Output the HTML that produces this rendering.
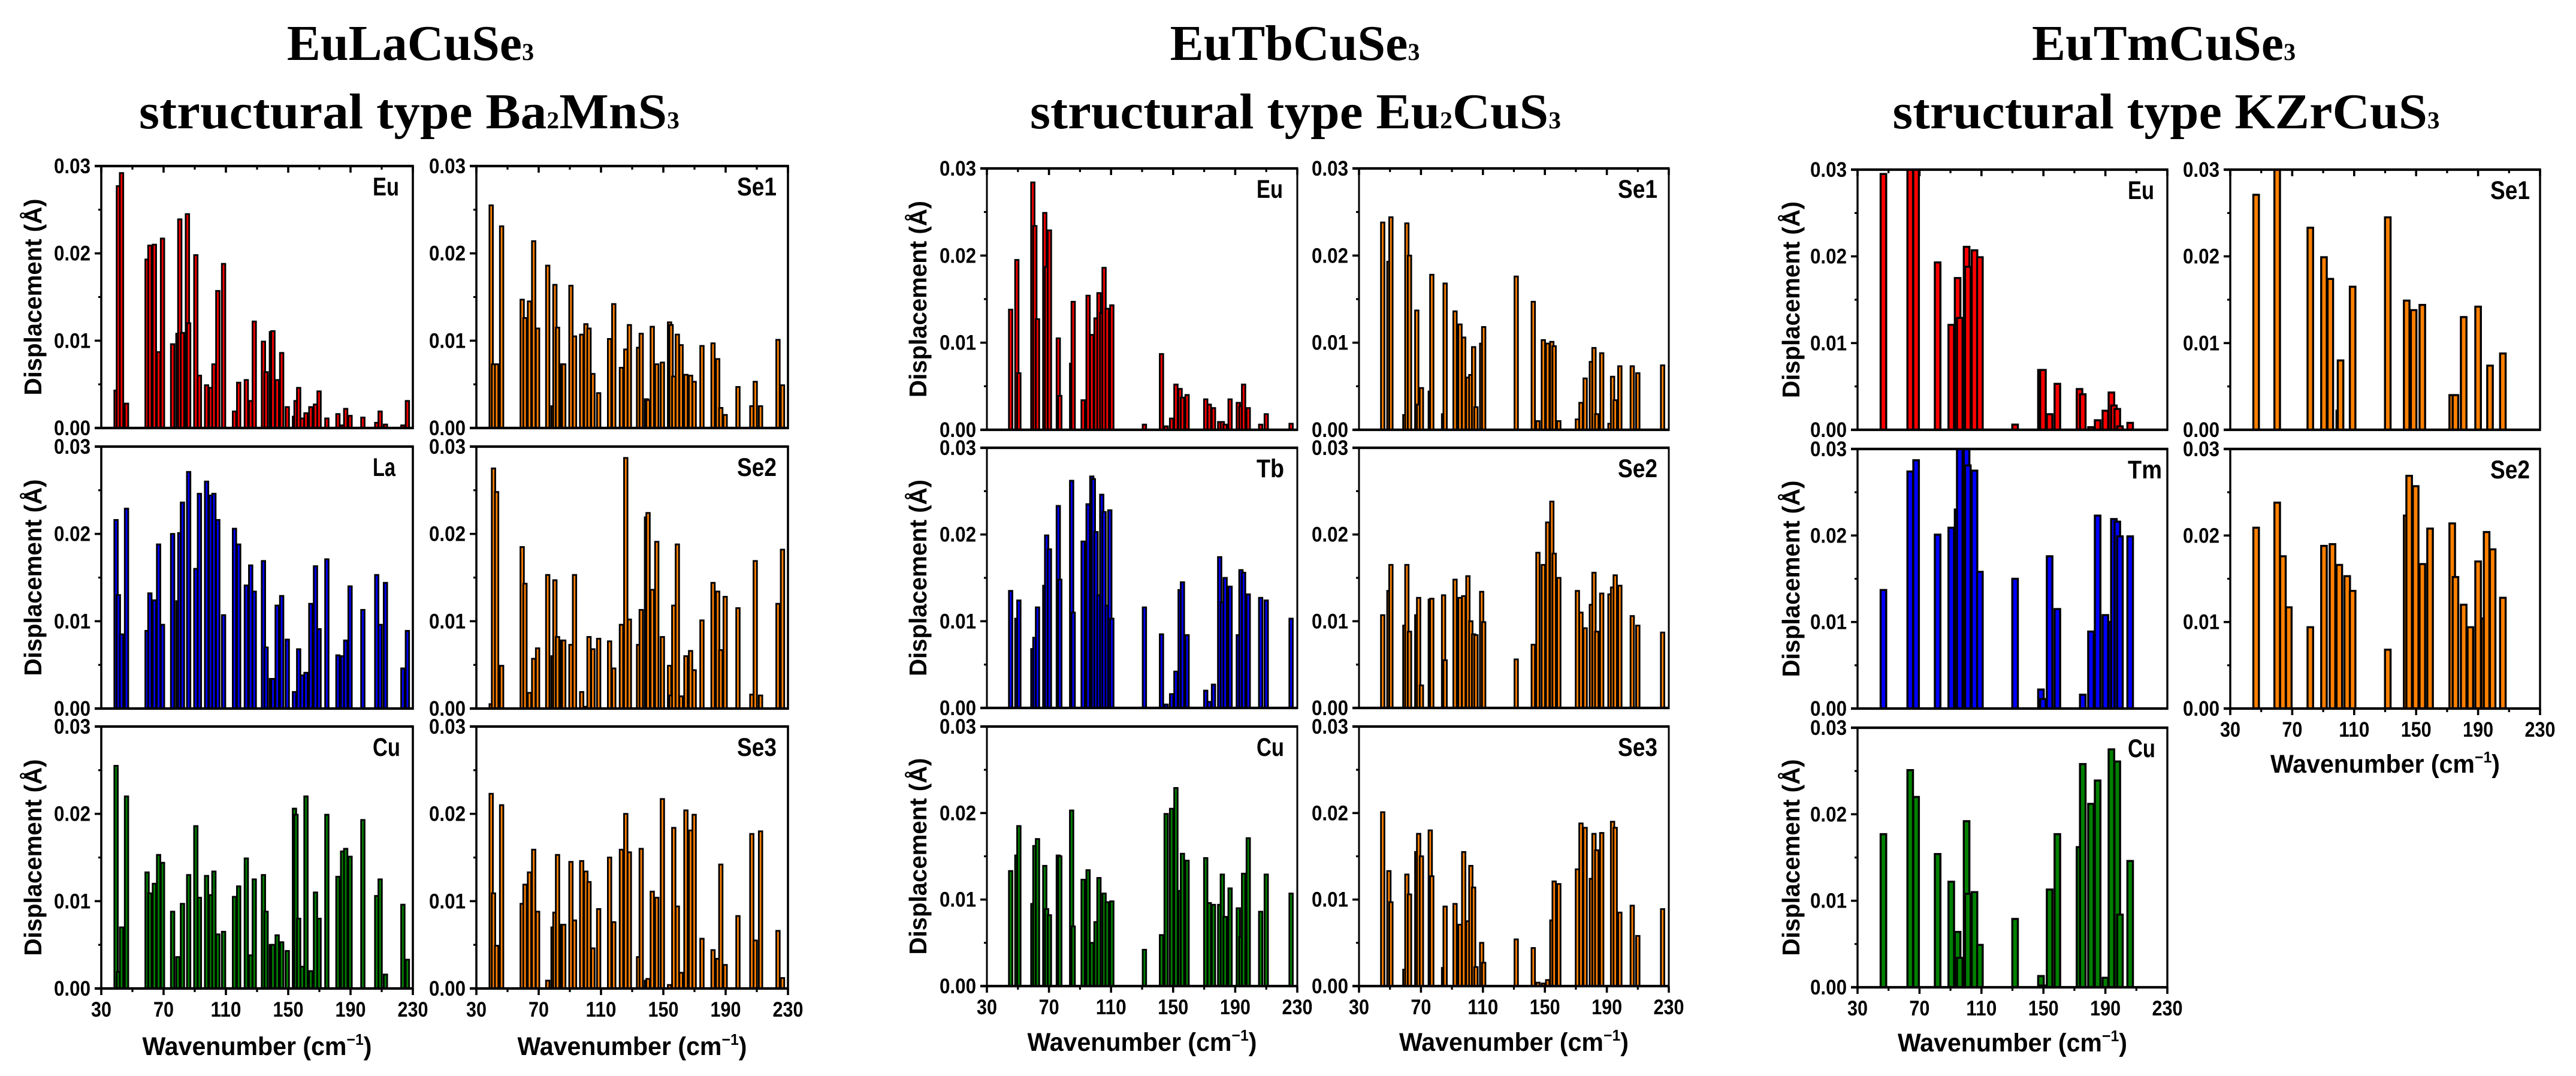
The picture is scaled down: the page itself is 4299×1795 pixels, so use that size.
<!DOCTYPE html>
<html lang="en">
<head>
<meta charset="utf-8">
<title>Atomic displacement charts for EuLaCuSe3, EuTbCuSe3, EuTmCuSe3</title>
<style>
html,body{margin:0;padding:0;background:#fff;}
svg{display:block;}
text{fill:#000;}
.title{font-family:"Liberation Serif",serif;font-weight:bold;font-size:84px;text-anchor:middle;}
</style>
</head>
<body>
<svg id="chart" xmlns="http://www.w3.org/2000/svg" width="4299" height="1795" viewBox="0 0 4299 1795">
  <rect x="0" y="0" width="4299" height="1795" fill="#fff"/>
  <text class="title" x="685" y="100">EuLaCuSe<tspan font-size="40">3</tspan></text>
  <text class="title" x="683" y="214" textLength="902" lengthAdjust="spacingAndGlyphs">structural type Ba<tspan font-size="40">2</tspan>MnS<tspan font-size="40">3</tspan></text>
  <text class="title" x="2161" y="100">EuTbCuSe<tspan font-size="40">3</tspan></text>
  <text class="title" x="2162" y="214" textLength="886" lengthAdjust="spacingAndGlyphs">structural type Eu<tspan font-size="40">2</tspan>CuS<tspan font-size="40">3</tspan></text>
  <text class="title" x="3611" y="100">EuTmCuSe<tspan font-size="40">3</tspan></text>
  <text class="title" x="3615" y="214" textLength="913" lengthAdjust="spacingAndGlyphs">structural type KZrCuS<tspan font-size="40">3</tspan></text>
</svg>
<script>
// Axis tick data (displacement values are in 10^-3 angstrom)
const xMajorTicks = [30, 70, 110, 150, 190, 230];
const xMinorTicks = [50, 90, 130, 170, 210];
const yMajorTicks = [0, 10, 20, 30];
const yMinorTicks = [5, 15, 25];
const yTickLabels = ['0.00', '0.01', '0.02', '0.03'];

// EuLaCuSe3 mode wavenumbers and displacements
const laWavenumbers = [39.5,41,43,46.2,59.4,61.2,64.1,66.8,69.3,75.8,
  79.2,80.4,82.1,85.3,86.1,90.7,93,97.6,100.3,102.3,
  104.8,108.5,115.5,118.2,123.1,125.9,128.2,134.1,135.8,139.2,
  140.2,142.9,145.8,149.4,154,155,156.7,159,161.4,164.5,
  167.5,169.8,174.8,181.9,184.9,186.9,189.7,197.9,206.8,209,
  212.4,223.6,226.5];
const laEu = [4.3,27.7,29.2,2.8,19.3,20.9,21,8.7,21.7,9.6,
  10.8,23.9,10.9,24.5,12,19.8,6,4.9,4.6,7.3,
  15.7,18.8,1.9,5.2,5.5,3.1,12.2,9.9,6.4,11,
  11.1,5.5,8.6,2.4,1.3,3.1,4.6,1.1,1.7,2.4,
  2.7,4.2,1.1,1.6,.3,2.2,1.4,1.2,.6,1.9,
  .4,.3,3.1];
const laLa = [21.6,13,8.5,22.9,8.9,13.2,12.4,18.8,9.6,20,
  12.3,20.1,23.6,0,27.1,16,24.6,26,24.4,24.6,
  21.6,10.7,20.6,18.8,14.1,16.4,13.4,16.9,7,3.4,
  3.4,11.8,12.9,7.9,1.9,0,6.8,3.8,4.1,12,
  16.3,9.1,17.1,6.1,6,7.8,14,11.3,15.3,9.6,
  14.4,4.6,8.9];
const laCu = [25.5,1.9,7,22,13.3,10.9,12,15.3,14.4,8.8,
  3.6,0,9.7,0,13,18.6,10.4,12.9,10.7,13.4,
  6.2,6.5,10.5,11.7,14.9,3.8,12.5,13,8.8,5,
  5,6.1,5.3,4.3,20.6,19.9,8,2.5,22,2,
  11,8,19.9,12.8,15.7,16,15.1,19.3,10.6,12.5,
  1.6,9.6,3.3];
const laSe1 = [25.5,7.3,7.3,23.1,14.7,12.6,14.5,21.4,11.4,18.6,
  2.5,16.4,11.5,7.3,7.3,16.3,10.5,10.7,11.9,11.4,
  6.2,4,10.2,14.2,6.9,9,11.8,9.2,10.8,3.3,
  3.2,11.6,7.3,7.5,12.1,11.8,5.9,10.7,9.5,6.1,
  6,5.3,9.4,9.7,7.9,2.3,1.5,4.7,2.5,5.3,
  2.5,10.1,4.9];
const laSe2 = [.5,27.5,24.8,4.9,18.5,14.3,1.8,5.7,6.9,15.3,
  6,14.7,8.2,7.8,7.8,7.3,15.3,1.9,.2,8.2,
  6.8,8,7.7,4.6,9.6,28.7,10.2,7.3,11.3,21.9,
  22.4,13.6,19.1,8.2,4.9,1.5,11.8,18.8,1.4,6,
  6.6,4.4,10.1,14.4,13.4,6.7,12.8,11.5,1.6,16.9,
  1.5,12,18.2];
const laSe3 = [22.3,10.9,4.9,21,9.7,11.9,13.3,15.9,8.8,.9,
  7,8.7,15.3,7.3,7.3,14.5,7.8,14.6,13.4,12.2,
  4.6,9.1,15,7.6,15.9,20,15.6,3.6,16,.9,
  1.1,11.1,10.4,21.7,.4,0,18.4,9.4,1.8,20.4,
  18.1,19.9,5.7,4.4,3.4,14.2,2.7,8.3,17.7,5.5,
  18,6.6,1.2];

// EuTbCuSe3 mode wavenumbers and displacements
const tbWavenumbers = [45.3,49.3,50.6,59.6,60.9,62.6,67.3,68.5,70.3,76,
  77,84.6,85.6,92,95.2,97.6,98.6,100.3,102.2,104,
  105.5,107.5,109.2,110.5,131.5,142.5,145.5,149,151.8,154.5,
  156,159,171,173.3,176,180,181.7,183.5,186.7,192,
  193.7,195.4,198.4,206.4,210,226];
const tbEu = [13.8,19.5,6.5,28.4,23.4,12.7,24.9,18.7,22.9,10.5,
  3.9,7.6,14.7,3.4,15.4,10.9,0,12.8,15.7,13.4,
  18.6,13.9,0,14.3,.6,8.7,.4,1.3,5.2,4.7,
  3.7,4,3.5,2.9,2.5,.9,.9,.6,3.5,3.1,
  2.7,5.2,2.5,.6,1.8,.7];
const tbTb = [13.5,10.3,12.4,6.8,8.1,11.6,14.1,19.9,18.3,23.3,
  14.8,26.2,11,19.2,23.5,26.7,26.4,20.3,13,24.6,
  22.6,11.8,22.8,10.3,11.6,8.5,.4,1.6,4.2,13.6,
  14.5,8.4,2,.7,2.7,17.4,12.2,15,14,8.4,
  15.9,15.6,13.1,12.7,12.4,10.3];
const tbCu = [13.3,15.1,18.5,9.5,16.2,17,13.9,8.9,8.2,15.1,
  15,20.3,6.9,12.3,13.4,5,0,7.4,12.5,0,
  10.7,9.7,0,9.8,4.2,5.9,19.9,20.5,22.9,11,
  15.3,14.5,14.8,9.6,9.4,9.4,12.9,8,11.3,9,
  5.7,13,17.1,8.6,12.9,10.7];
const tbSe1 = [23.8,19.3,24.4,1.7,23.7,20,13.7,2.9,4.8,4.4,
  17.8,1.8,16.8,13.6,12.1,10.6,0,6,6.3,9.5,
  2.6,0,9.9,11.8,17.6,14.7,1,10.3,9.9,10.1,
  9.6,1,1.2,3.1,5.9,7.8,9.4,1.8,8.8,.7,
  6.1,3.4,7.3,7.3,6.5,7.4];
const tbSe2 = [10.7,13.5,16.5,9.5,16.5,8.8,10.7,12.7,2.6,12.5,
  12.6,13,5.5,14.8,12.7,12.9,0,15.2,10,8.5,
  8.4,0,13.4,9.9,5.6,7.3,17.9,16.5,21.4,23.8,
  17.8,15,13.5,11,9.2,11.9,15.6,8.8,13.2,13.1,
  13.9,15.3,14.1,10.6,9.5,8.7];
const tbSe3 = [20.1,13.3,9.7,1.9,12.9,10.6,15.5,17.6,15,18,
  12.7,2.1,9.2,9.5,7.1,15.5,0,7.5,13.9,11.4,
  2.2,0,5,2.7,5.4,4.4,.4,.3,.7,7.6,
  12.1,11.8,13.5,18.8,18.3,12.4,17.6,15.7,17.7,0,
  19,18.3,8.5,9.3,5.8,8.9];

// EuTmCuSe3 mode wavenumbers and displacements
const tmWavenumbers = [46.7,60.3,64,67.8,81.7,90.5,94.6,96,100.4,101.2,
  105.5,109,131.7,143.9,145.5,148.4,149.7,154,159,173.3,
  175.4,180.7,185,190,193.9,195.5,197.7,199.4,206];
const tmEu = [29.5,0,31,31,19.3,12.1,17.5,12.9,21.1,18.8,
  20.7,19.9,.6,0,0,6.9,6.9,1.8,5.3,4.7,
  4.1,.3,1.1,2.2,4.3,2.8,2.4,.4,.8];
const tmTm = [13.7,0,27.4,28.7,20.1,20.9,23,31,31,28.1,
  27.5,15.8,15,0,0,2.2,1.1,17.6,11.5,0,
  1.6,8.9,22.3,10.8,10,21.9,21.6,19.9,19.9];
const tmCu = [17.7,0,25.1,22,15.4,12.2,6.4,3.4,19.2,10.8,
  11,4.9,7.9,0,0,1.3,.2,11.3,17.7,16.2,
  25.8,21.2,23.9,1.1,27.5,0,26.1,8.4,14.6];
const tmSe1 = [27.1,31,0,0,23.3,19.9,17.4,0,2.2,8,
  0,16.5,24.5,14.9,0,13.8,0,14.4,0,4,
  4,13,0,14.2,0,0,7.4,0,8.8];
const tmSe2 = [20.9,23.8,17.6,11.7,9.4,18.8,0,19,16.6,0,
  15.3,13.6,6.8,22.3,26.9,0,25.7,16.7,20.8,21.4,
  15.2,12,9.4,17,10.4,20.4,0,18.4,12.8];

const RED = '#ff0000', BLUE = '#0000ff', GREEN = '#008000', ORANGE = '#ff8000';
const NS = 'http://www.w3.org/2000/svg';
const root = document.getElementById('chart');
const xDomain = [30, 230];
const yDomain = [0, 30];

function makeLine(parent, x1, y1, x2, y2, width) {
  const el = document.createElementNS(NS, 'line');
  el.setAttribute('x1', x1);
  el.setAttribute('y1', y1);
  el.setAttribute('x2', x2);
  el.setAttribute('y2', y2);
  el.setAttribute('stroke', '#000');
  el.setAttribute('stroke-width', width);
  parent.appendChild(el);
  return el;
}

function makeText(parent, x, y, size, anchor, content) {
  const el = document.createElementNS(NS, 'text');
  el.setAttribute('x', x);
  el.setAttribute('y', y);
  el.setAttribute('font-family', '"Liberation Sans", sans-serif');
  el.setAttribute('font-weight', 'bold');
  el.setAttribute('font-size', size);
  el.setAttribute('text-anchor', anchor);
  el.textContent = content;
  parent.appendChild(el);
  return el;
}

let clipCounter = 0;

function drawPanel(p) {
  const g = document.createElementNS(NS, 'g');
  
  
  root.appendChild(g);

  const xScale = v => p.left + (v - xDomain[0]) / (xDomain[1] - xDomain[0]) * (p.right - p.left);
  const yScale = v => p.bottom - (v - yDomain[0]) / (yDomain[1] - yDomain[0]) * (p.bottom - p.top);

  clipCounter += 1;
  const clip = document.createElementNS(NS, 'clipPath');
  clip.setAttribute('id', 'clip' + clipCounter);
  const clipRect = document.createElementNS(NS, 'rect');
  clipRect.setAttribute('x', p.left);
  clipRect.setAttribute('y', p.top);
  clipRect.setAttribute('width', p.right - p.left);
  clipRect.setAttribute('height', p.bottom - p.top);
  clip.appendChild(clipRect);
  g.appendChild(clip);

  const bars = document.createElementNS(NS, 'g');
  
  
  bars.setAttribute('clip-path', 'url(#clip' + clipCounter + ')');
  g.appendChild(bars);

  p.freqs.forEach((f, i) => {
    const v = p.values[i];
    if (!v) return;
    const bar = document.createElementNS(NS, 'rect');
    
    
    bar.setAttribute('x', xScale(f) - p.barW / 2);
    bar.setAttribute('y', yScale(v));
    bar.setAttribute('width', p.barW);
    bar.setAttribute('height', Math.max(0, yScale(0) - yScale(v)));
    bar.setAttribute('fill', p.color);
    bar.setAttribute('stroke', '#000');
    bar.setAttribute('stroke-width', p.barStroke);
    bars.appendChild(bar);
  });

  const frame = document.createElementNS(NS, 'g');
  
  
  g.appendChild(frame);
  makeLine(frame, p.left, p.top - 2, p.left, p.bottom + 2, p.sideW);
  makeLine(frame, p.right, p.top - 2, p.right, p.bottom + 2, p.sideW);
  makeLine(frame, p.left - 11, p.top, p.right + 1, p.top, 4.2);
  makeLine(frame, p.left - 11, p.bottom, p.right + 1, p.bottom, 4.2);

  yMajorTicks.forEach((v, i) => {
    makeLine(frame, p.left - 11, yScale(v), p.left, yScale(v), 3.6);
    const lab = makeText(frame, p.left - 18, yScale(v) + 12, 35, 'end', yTickLabels[i]);
    
    
    lab.setAttribute('textLength', 61);
    lab.setAttribute('lengthAdjust', 'spacingAndGlyphs');
  });
  yMinorTicks.forEach(v => {
    makeLine(frame, p.left - 5, yScale(v), p.left, yScale(v), 3.2);
  });

  if (p.topTicks) {
    xMajorTicks.forEach(v => makeLine(frame, xScale(v), p.top, xScale(v), p.top + 11, 3.6));
    xMinorTicks.forEach(v => makeLine(frame, xScale(v), p.top, xScale(v), p.top + 6, 3.2));
  }
  if (p.xLabels) {
    xMajorTicks.forEach(v => {
      makeLine(frame, xScale(v), p.bottom, xScale(v), p.bottom + 11, 3.6);
      const lab = makeText(frame, xScale(v), p.bottom + 47, 35, 'middle', String(v));
      
      
      lab.setAttribute('textLength', String(v).length * 17);
      lab.setAttribute('lengthAdjust', 'spacingAndGlyphs');
    });
    xMinorTicks.forEach(v => makeLine(frame, xScale(v), p.bottom, xScale(v), p.bottom + 6, 3.2));

    const xt = makeText(frame, (p.left + p.right) / 2, p.bottom + p.titleDy, 43, 'middle', 'Wavenumber (cm');
    
    
    xt.setAttribute('textLength', 383);
    xt.setAttribute('lengthAdjust', 'spacingAndGlyphs');
    const sup = document.createElementNS(NS, 'tspan');
    sup.setAttribute('font-size', 26);
    sup.setAttribute('dy', -17);
    sup.textContent = '\u22121';
    xt.appendChild(sup);
    const close = document.createElementNS(NS, 'tspan');
    close.setAttribute('dy', 17);
    close.textContent = ')';
    xt.appendChild(close);
  }

  if (p.yTitleX) {
    const yt = makeText(frame, 0, 0, 41, 'middle', 'Displacement (\u00c5)');
    
    
    yt.setAttribute('transform', 'translate(' + p.yTitleX + ',' + (p.top + p.bottom) / 2 + ') rotate(-90)');
    yt.setAttribute('dy', 14);
    yt.setAttribute('textLength', 328);
    yt.setAttribute('lengthAdjust', 'spacingAndGlyphs');
  }

  const lab = makeText(g, p.left + p.labelDx, p.top + 49, 43, 'start', p.label);
  
  
  lab.setAttribute('textLength', p.labelW);
  lab.setAttribute('lengthAdjust', 'spacingAndGlyphs');
}

function buildGroup(g) {
  g.panels.forEach(item => {
    const col = g.cols[item.col];
    const row = g.rows[item.row];
    drawPanel({
      id: g.key + '-' + item.label.toLowerCase(),
      left: col[0], right: col[1], top: row[0], bottom: row[1],
      freqs: g.freqs, values: item.values, color: item.color, label: item.label,
      labelDx: item.label.startsWith('Se') ? g.seDx : g.metalDx,
      labelW: item.w, barW: g.barW, barStroke: g.barStroke, sideW: g.sideW,
      topTicks: item.row === 0, xLabels: !!item.x, titleDy: g.titleDy,
      yTitleX: item.col === 0 ? g.yTitleX : 0
    });
  });
}

buildGroup({
  key: 'la', freqs: laWavenumbers, barW: 5.7, barStroke: 2.9, sideW: 3.6, titleDy: 111, yTitleX: 55,
  metalDx: 453, seDx: 435,
  cols: [[169, 689], [795, 1315]],
  rows: [[277, 714], [745, 1182], [1212, 1649]],
  panels: [
    {col: 0, row: 0, label: 'Eu', values: laEu, color: RED, w: 44},
    {col: 1, row: 0, label: 'Se1', values: laSe1, color: ORANGE, w: 66},
    {col: 0, row: 1, label: 'La', values: laLa, color: BLUE, w: 38},
    {col: 1, row: 1, label: 'Se2', values: laSe2, color: ORANGE, w: 66},
    {col: 0, row: 2, label: 'Cu', values: laCu, color: GREEN, w: 46, x: true},
    {col: 1, row: 2, label: 'Se3', values: laSe3, color: ORANGE, w: 66, x: true}
  ]
});

buildGroup({
  key: 'tb', freqs: tbWavenumbers, barW: 5.7, barStroke: 2.9, sideW: 3, titleDy: 108, yTitleX: 1532,
  metalDx: 450, seDx: 432,
  cols: [[1647, 2165], [2268, 2785]],
  rows: [[281, 717], [747, 1181], [1212, 1645]],
  panels: [
    {col: 0, row: 0, label: 'Eu', values: tbEu, color: RED, w: 44},
    {col: 1, row: 0, label: 'Se1', values: tbSe1, color: ORANGE, w: 66},
    {col: 0, row: 1, label: 'Tb', values: tbTb, color: BLUE, w: 46},
    {col: 1, row: 1, label: 'Se2', values: tbSe2, color: ORANGE, w: 66},
    {col: 0, row: 2, label: 'Cu', values: tbCu, color: GREEN, w: 46, x: true},
    {col: 1, row: 2, label: 'Se3', values: tbSe3, color: ORANGE, w: 66, x: true}
  ]
});

buildGroup({
  key: 'tm', freqs: tmWavenumbers, barW: 9.3, barStroke: 3.4, sideW: 3.4, titleDy: 107, yTitleX: 2989,
  metalDx: 451, seDx: 434,
  cols: [[3100, 3617], [3722, 4239]],
  rows: [[283, 717], [749, 1182], [1214, 1647]],
  panels: [
    {col: 0, row: 0, label: 'Eu', values: tmEu, color: RED, w: 44},
    {col: 1, row: 0, label: 'Se1', values: tmSe1, color: ORANGE, w: 66},
    {col: 0, row: 1, label: 'Tm', values: tmTm, color: BLUE, w: 57},
    {col: 1, row: 1, label: 'Se2', values: tmSe2, color: ORANGE, w: 66, x: true},
    {col: 0, row: 2, label: 'Cu', values: tmCu, color: GREEN, w: 46, x: true}
  ]
});
</script>
</body>
</html>
